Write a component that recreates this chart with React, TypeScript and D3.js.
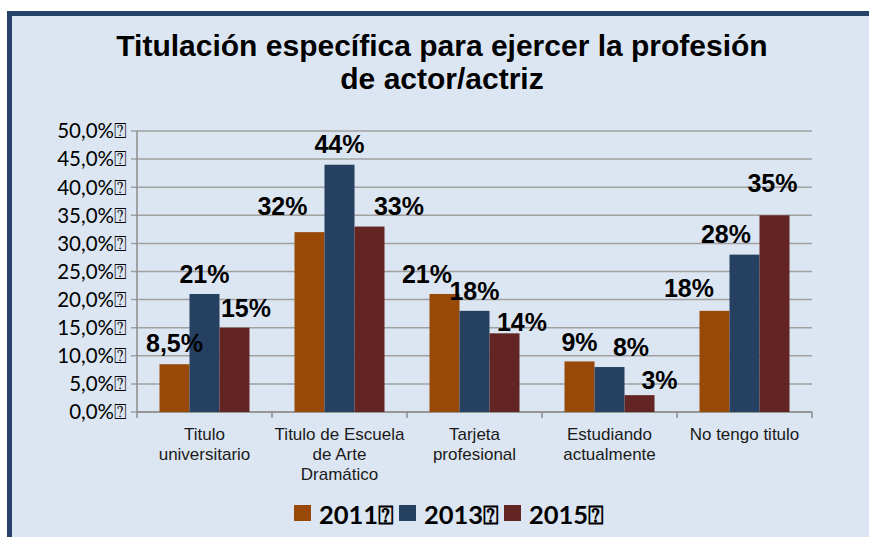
import React from "react";
import * as d3 from "d3";

// chart data
const categories = [
  ["Titulo", "universitario"],
  ["Titulo de Escuela", "de Arte", "Dramático"],
  ["Tarjeta", "profesional"],
  ["Estudiando", "actualmente"],
  ["No tengo titulo"],
];
const years = ["2011", "2013", "2015"];
const values2011 = [0.085, 0.32, 0.21, 0.09, 0.18];
const values2013 = [0.21, 0.44, 0.18, 0.08, 0.28];
const values2015 = [0.15, 0.33, 0.14, 0.03, 0.35];
const labels2011 = ["8,5%", "32%", "21%", "9%", "18%"];
const labels2013 = ["21%", "44%", "18%", "8%", "28%"];
const labels2015 = ["15%", "33%", "14%", "3%", "35%"];
const yTicks = [0, 0.05, 0.1, 0.15, 0.2, 0.25, 0.3, 0.35, 0.4, 0.45, 0.5];

const series = [values2011, values2013, values2015];
const seriesLabels = [labels2011, labels2013, labels2015];
const colors = ["#984807", "#254061", "#632523"];

// hand-placed data labels (dx, dy from bar top), like the original
const labelNudge = [
  [[0, -12], [-27, -17], [-17.5, -11], [0, -10], [-25.5, -14]],
  [[0, -11], [0, -12], [0, -11], [21.5, -11], [-18.5, -12]],
  [[11.5, -11], [29.5, -11.5], [17.5, -2.3], [20, -6], [-2, -23]],
];

const W = 869;
const H = 537;
const plot = { left: 137, right: 812, top: 131, bottom: 412 };
const TOFU = "\u2370";

const esFormat = d3.formatLocale({
  decimal: ",",
  thousands: ".",
  grouping: [3],
  currency: ["", "€"],
}).format(".1%");

export default function App() {
  const x0 = d3
    .scaleBand<number>()
    .domain(d3.range(categories.length))
    .range([plot.left, plot.right]);
  const bw = x0.bandwidth();
  // Excel style gap width 150%
  const barW = bw / 4.5;
  const x1 = d3
    .scaleBand<number>()
    .domain(d3.range(years.length))
    .range([barW * 0.75, bw - barW * 0.75]);
  const y = d3.scaleLinear().domain([0, 0.5]).range([plot.bottom, plot.top]);

  const labelFont = "'Liberation Sans', Arial, sans-serif";
  const tickFont = "Lato, 'DejaVu Sans', sans-serif";

  return (
    <svg
      width={W}
      height={H}
      style={{ position: "absolute", left: 0, top: 0, display: "block" }}
    >
      <rect x={0} y={0} width={W} height={H} fill="#ffffff" />
      <rect x={7} y={11} width={W} height={H} fill="#27426a" />
      <rect x={12} y={16} width={W} height={H} fill="#dce6f2" />

      {/* title */}
      <text
        x={442}
        textAnchor="middle"
        fontFamily={labelFont}
        fontWeight="bold"
        fontSize={30}
        fill="#000"
      >
        <tspan x={442} y={56}>Titulación específica para ejercer la profesión</tspan>
        <tspan x={442} y={89}>de actor/actriz</tspan>
      </text>

      {/* gridlines */}
      {yTicks.map((t) => (
        <line
          key={"g" + t}
          x1={plot.left - 6}
          x2={plot.right}
          y1={y(t)}
          y2={y(t)}
          stroke="#a0a0a0"
          strokeWidth={1.5}
        />
      ))}
      {/* y axis */}
      <line
        x1={plot.left}
        x2={plot.left}
        y1={plot.top}
        y2={plot.bottom}
        stroke="#8c8c8c"
        strokeWidth={1.5}
      />
      {yTicks.map((t) => (
        <text
          key={"t" + t}
          x={plot.left - 10}
          y={y(t)}
          dy="0.36em"
          textAnchor="end"
          fontFamily={tickFont}
          fontSize={20.5}
          fill="#000"
        >
          {esFormat(t) + TOFU}
        </text>
      ))}

      {/* x axis */}
      <line
        x1={plot.left}
        x2={plot.right}
        y1={plot.bottom}
        y2={plot.bottom}
        stroke="#8c8c8c"
        strokeWidth={1.5}
      />
      {d3.range(categories.length + 1).map((i) => {
        const xx = plot.left + bw * i;
        return (
          <line
            key={"xt" + i}
            x1={xx}
            x2={xx}
            y1={plot.bottom}
            y2={plot.bottom + 6}
            stroke="#8c8c8c"
            strokeWidth={1.5}
          />
        );
      })}
      {categories.map((lines, i) => (
        <text
          key={"c" + i}
          textAnchor="middle"
          fontFamily={labelFont}
          fontSize={17}
          fill="#1a1a1a"
        >
          {lines.map((ln, j) => (
            <tspan key={j} x={(x0(i) as number) + bw / 2} y={440 + j * 20}>
              {ln}
            </tspan>
          ))}
        </text>
      ))}

      {/* bars */}
      {series.map((vals, s) =>
        vals.map((v, i) => (
          <rect
            key={"b" + s + "-" + i}
            x={(x0(i) as number) + (x1(s) as number)}
            y={y(v)}
            width={x1.bandwidth()}
            height={plot.bottom - y(v)}
            fill={colors[s]}
          />
        ))
      )}

      {/* data labels */}
      {series.map((vals, s) =>
        vals.map((v, i) => (
          <text
            key={"l" + s + "-" + i}
            x={(x0(i) as number) + (x1(s) as number) + x1.bandwidth() / 2 + labelNudge[s][i][0]}
            y={y(v) + labelNudge[s][i][1]}
            textAnchor="middle"
            fontFamily={labelFont}
            fontWeight="bold"
            fontSize={25}
            fill="#000"
          >
            {seriesLabels[s][i]}
          </text>
        ))
      )}

      {/* legend */}
      {years.map((yr, s) => {
        const lx = [294, 399, 504][s];
        return (
          <g key={"lg" + yr}>
            <rect x={lx} y={505} width={17} height={16} fill={colors[s]} />
            <text
              x={lx + 25}
              y={524}
              fontFamily={tickFont}
              fontWeight="bold"
              fontSize={25.5}
              fill="#000"
            >
              {yr + TOFU}
            </text>
          </g>
        );
      })}
    </svg>
  );
}
